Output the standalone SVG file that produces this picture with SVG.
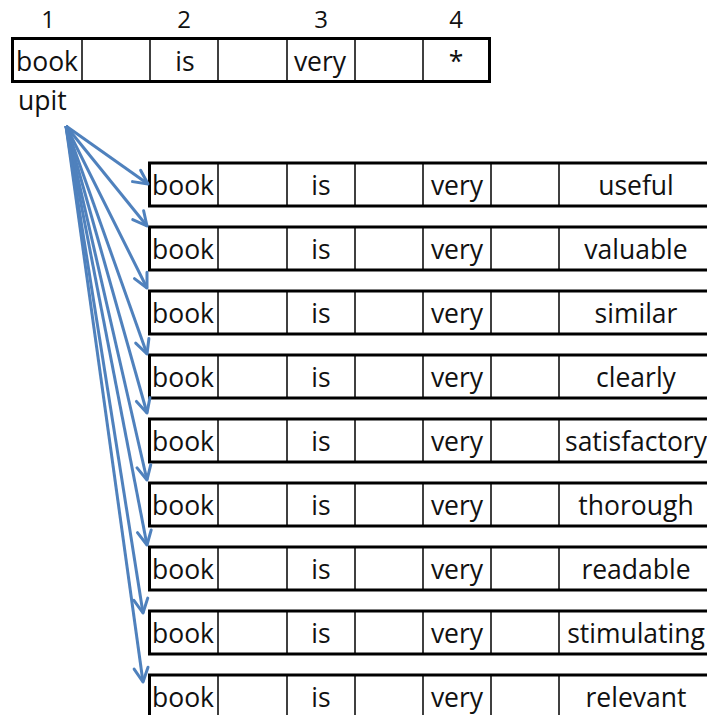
<svg xmlns="http://www.w3.org/2000/svg" width="707" height="715" viewBox="0 0 707 715">
<style>
text{font-family:"Open Sans","Liberation Sans",sans-serif;font-size:26.5px;fill:#111}
.n{font-size:24px}
.c{text-anchor:middle}
.outer{fill:#fff;stroke:#000;stroke-width:3}
.in{stroke:#000;stroke-width:1.5}
.conn line{stroke:#4f81bd;stroke-width:3;marker-end:url(#ah)}
</style>
<defs>
<marker id="ah" markerUnits="userSpaceOnUse" viewBox="0 0 18 18" markerWidth="18" markerHeight="18" refX="16" refY="9" orient="auto">
<path d="M2,2 L16,9 L2,16" fill="none" stroke="#4f81bd" stroke-width="3" stroke-linejoin="round" stroke-linecap="round"/>
</marker>
<g id="rowcells">
<rect class="outer" x="149.5" y="0" width="570" height="43"/>
<line class="in" x1="218" y1="0" x2="218" y2="43"/>
<line class="in" x1="287" y1="0" x2="287" y2="43"/>
<line class="in" x1="355" y1="0" x2="355" y2="43"/>
<line class="in" x1="423" y1="0" x2="423" y2="43"/>
<line class="in" x1="491" y1="0" x2="491" y2="43"/>
<line class="in" x1="559" y1="0" x2="559" y2="43"/>
<text x="152" y="32">book</text>
<text class="c" x="321" y="32">is</text>
<text class="c" x="457" y="32">very</text>
</g>
</defs>
<g id="header">
<text class="c n" x="48" y="28">1</text>
<text class="c n" x="184" y="28">2</text>
<text class="c n" x="321" y="28">3</text>
<text class="c n" x="456" y="28">4</text>
<rect class="outer" x="12.5" y="38.5" width="477" height="43"/>
<line class="in" x1="82" y1="38.5" x2="82" y2="81.5"/>
<line class="in" x1="150" y1="38.5" x2="150" y2="81.5"/>
<line class="in" x1="218" y1="38.5" x2="218" y2="81.5"/>
<line class="in" x1="287" y1="38.5" x2="287" y2="81.5"/>
<line class="in" x1="355" y1="38.5" x2="355" y2="81.5"/>
<line class="in" x1="423" y1="38.5" x2="423" y2="81.5"/>
<text x="16" y="71">book</text>
<text class="c" x="185" y="71">is</text>
<text class="c" x="320" y="71">very</text>
<text class="c" x="456" y="71">*</text>
<text x="18" y="110">upit</text>
</g>
<g id="row1" transform="translate(0,163)"><use href="#rowcells"/><text class="c" x="636" y="32">useful</text></g>
<g id="row2" transform="translate(0,227)"><use href="#rowcells"/><text class="c" x="636" y="32">valuable</text></g>
<g id="row3" transform="translate(0,291)"><use href="#rowcells"/><text class="c" x="636" y="32">similar</text></g>
<g id="row4" transform="translate(0,355)"><use href="#rowcells"/><text class="c" x="636" y="32">clearly</text></g>
<g id="row5" transform="translate(0,419)"><use href="#rowcells"/><text class="c" x="636" y="32">satisfactory</text></g>
<g id="row6" transform="translate(0,483)"><use href="#rowcells"/><text class="c" x="636" y="32">thorough</text></g>
<g id="row7" transform="translate(0,547)"><use href="#rowcells"/><text class="c" x="636" y="32">readable</text></g>
<g id="row8" transform="translate(0,611)"><use href="#rowcells"/><text class="c" x="636" y="32">stimulating</text></g>
<g id="row9" transform="translate(0,675)"><use href="#rowcells"/><text class="c" x="636" y="32">relevant</text></g>
<g id="connectors" class="conn">
<line x1="66" y1="126" x2="148" y2="184"/>
<line x1="66" y1="126" x2="147" y2="226"/>
<line x1="66" y1="126" x2="147" y2="288"/>
<line x1="66" y1="126" x2="147" y2="354"/>
<line x1="66" y1="126" x2="147" y2="413"/>
<line x1="66" y1="126" x2="147" y2="480"/>
<line x1="66" y1="126" x2="147" y2="545"/>
<line x1="66" y1="126" x2="143" y2="613"/>
<line x1="66" y1="126" x2="143" y2="682"/>
</g>
</svg>
